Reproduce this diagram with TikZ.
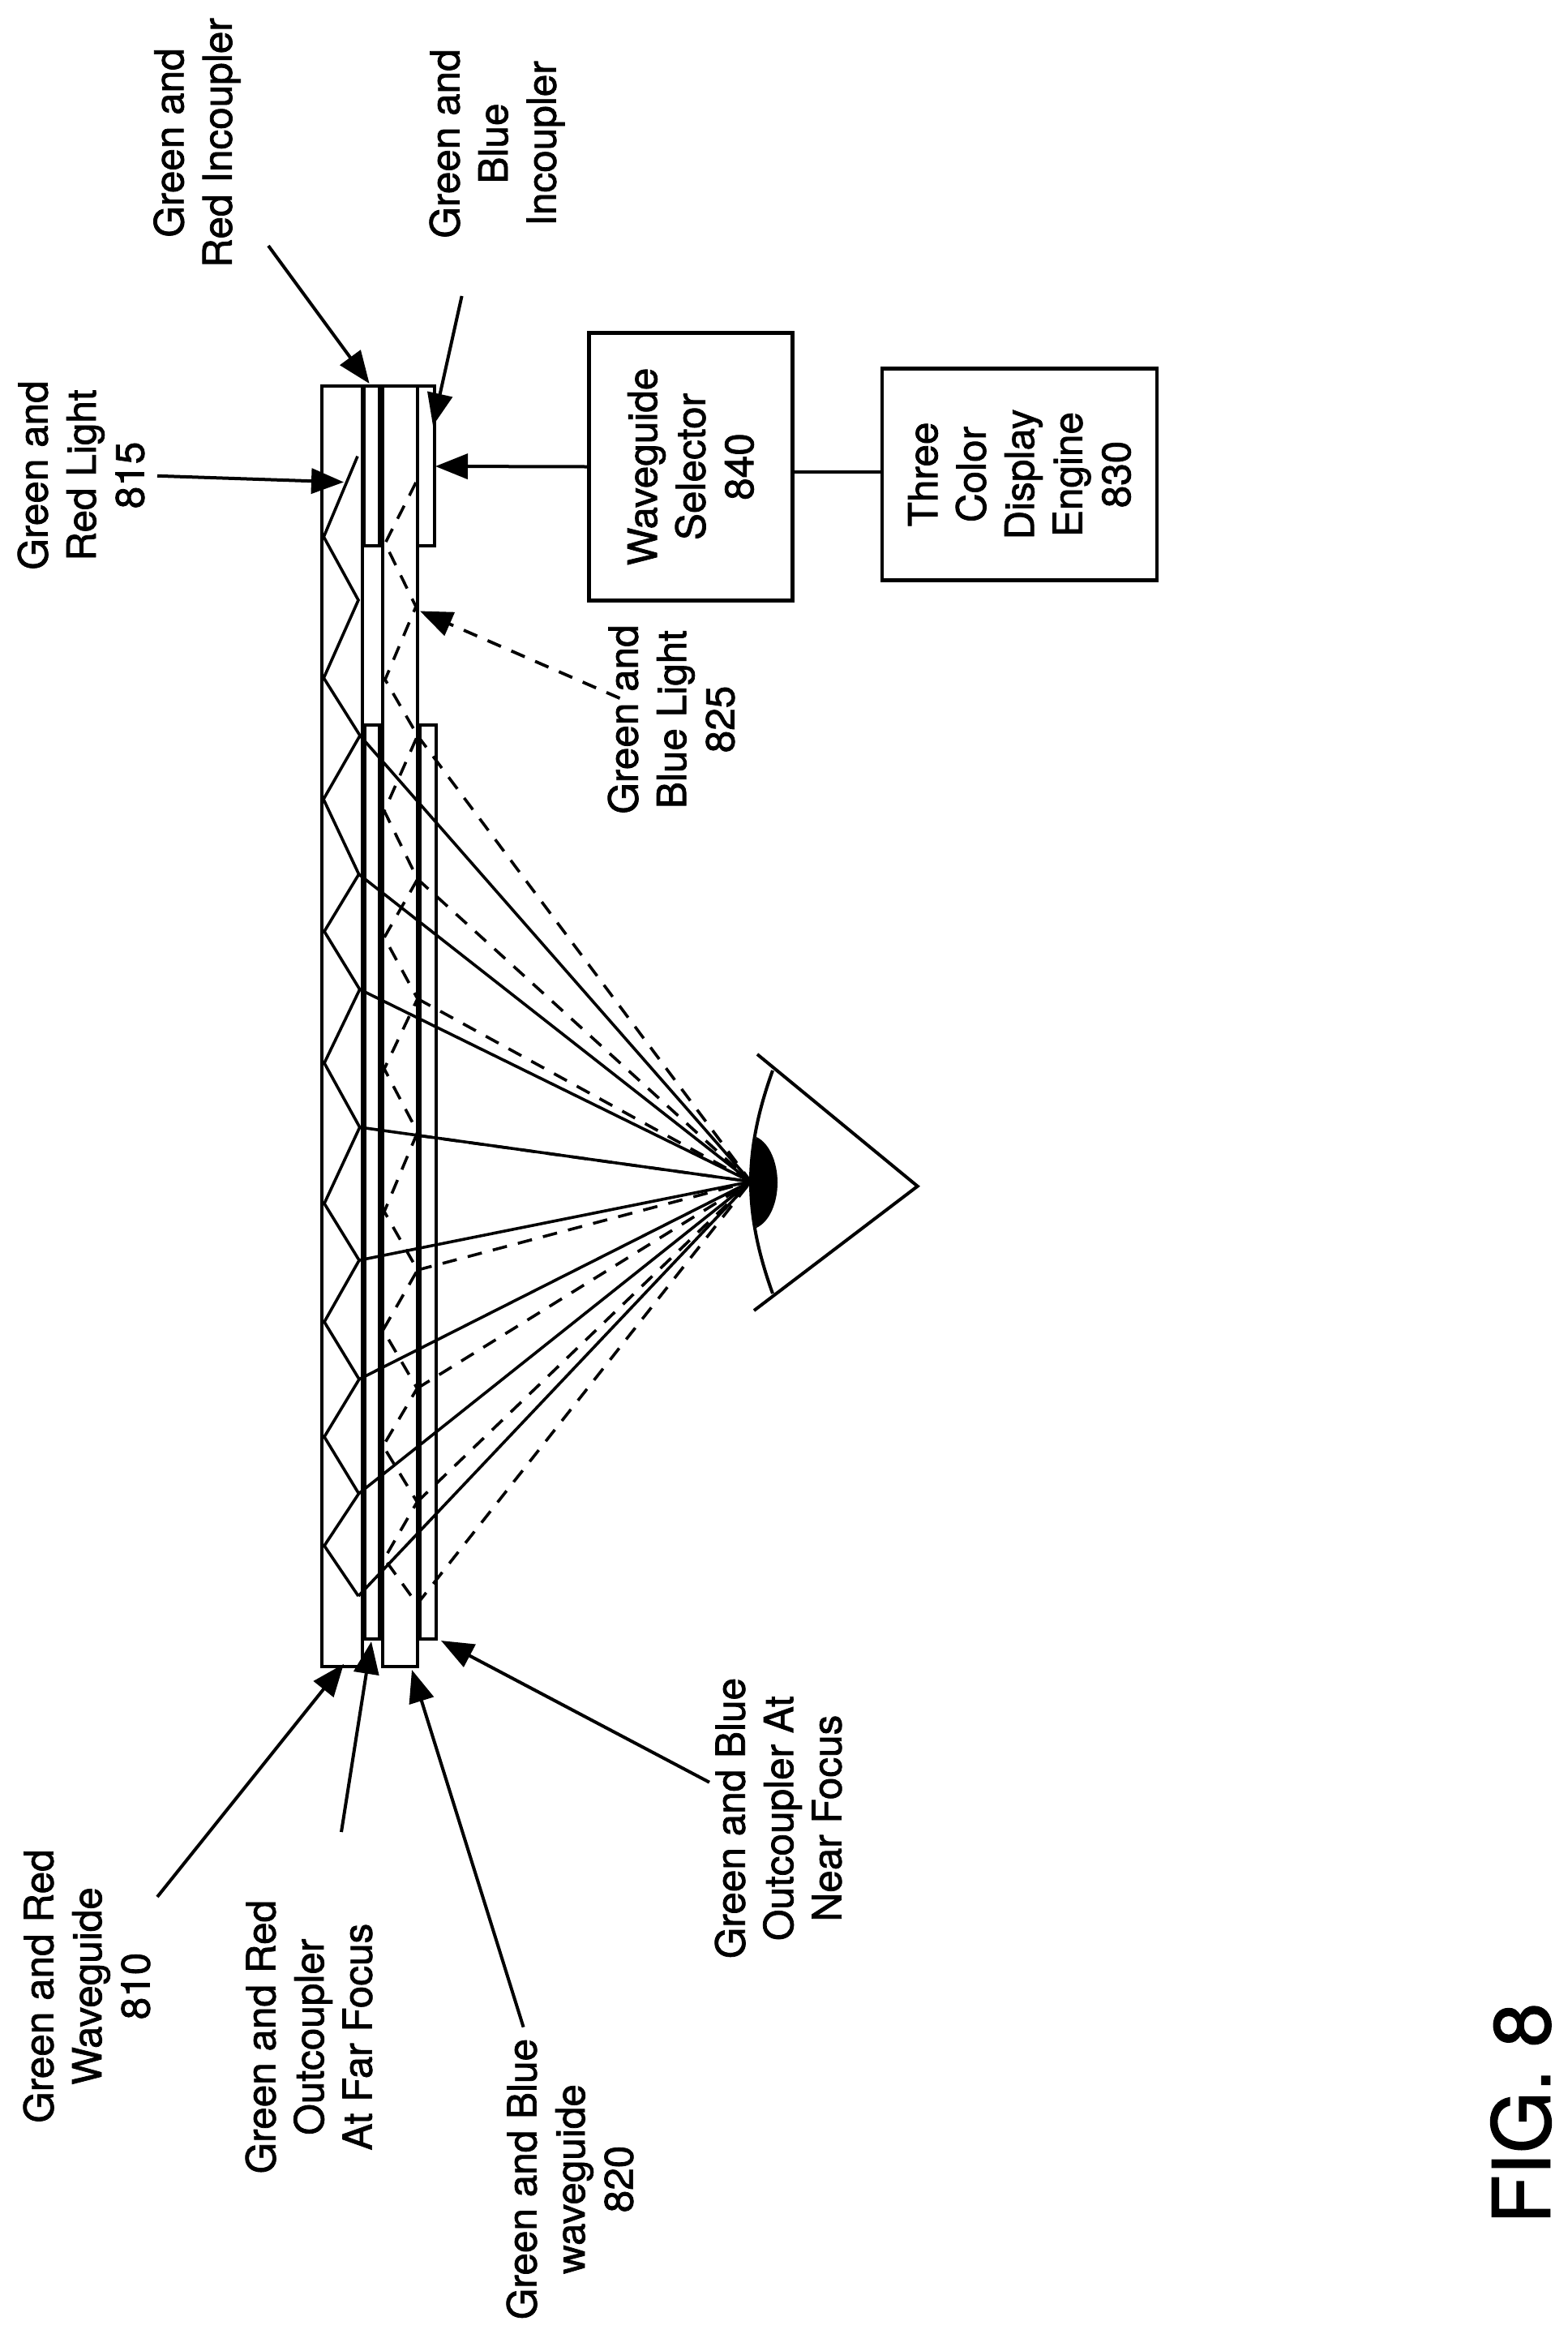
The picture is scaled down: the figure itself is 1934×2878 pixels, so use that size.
\documentclass[tikz,border=0pt]{standalone}
\usepackage{fontspec}
\setmainfont{TeX Gyre Heros}
\newfontfamily\lblfont[FakeBold=1.5]{TeX Gyre Heros}
\usetikzlibrary{arrows.meta}
\tikzset{
  lbl/.style={rotate=90,align=center,inner sep=0pt,font=\lblfont\fontsize{49.5}{59.5}\selectfont},
  wall/.style={draw=black,line width=4pt,line join=miter},
  box/.style={draw=black,line width=4.5pt,rotate=90,align=center,inner sep=0pt,font=\lblfont\fontsize{49.5}{59.5}\selectfont},
  ray/.style={black,line width=3.6pt,line join=miter},
  dray/.style={black,line width=3.6pt,dash pattern=on 18pt off 14pt},
  callout/.style={black,line width=4pt,-{Triangle[length=40pt,width=31pt]}},
  dcallout/.style={black,line width=3.8pt,dash pattern=on 18pt off 14pt,-{Triangle[length=40pt,width=31pt]}}
}
\begin{document}
\begin{tikzpicture}[x=1pt,y=-1pt]
\useasboundingbox (0,0) rectangle (1934,2878);
% waveguides and couplers
\draw[wall] (397,476) rectangle (446.5,2055);
\draw[wall] (472,476) rectangle (515,2055);
\draw[wall] (449,476) rectangle (468,672.5);
\draw[wall] (450,894) rectangle (468,2021);
\draw[wall] (515,476) rectangle (535.5,672.5);
\draw[wall] (518,894) rectangle (537.5,2021);
% eye
\coordinate (E) at (926,1457);
\fill[black] (933,1402) .. controls (950,1410) and (959,1435) .. (959,1458)
  .. controls (959,1482) and (950,1506) .. (933,1514)
  .. controls (926,1490) and (924,1425) .. (933,1402) -- cycle;
\coordinate (eyeA) at (934,1300);
\coordinate (eyeB) at (1131.7,1462.7);
\coordinate (eyeC) at (930,1616);
\coordinate (arcA) at (953,1320);
\coordinate (arcB) at (953,1595);
\draw[ray,line width=4pt] (eyeA) -- (eyeB) -- (eyeC);
\draw[ray,line width=4pt] (arcA) .. controls (917,1420) and (917,1495) .. (arcB);
% solid light path
\draw[ray] (441,562.6) -- (399.3,662) -- (442,740) -- (399.3,836)
  -- (444,907) -- (399,985.5) -- (442.6,1078) -- (400,1148.5)
  -- (443.7,1220) -- (400,1310.8) -- (443.7,1390) -- (400,1484)
  -- (443,1554) -- (400,1630) -- (443,1700.7) -- (400,1771.7)
  -- (442.5,1841.7) -- (400,1906) -- (442,1968);
\foreach \p in {(444,907),(442.6,1078),(443.7,1220),(443.7,1390),(443,1554),(443,1700.7),(442.5,1841.7),(442,1968)}
  \draw[ray] \p -- (E);
% dashed light path
\draw[dray] (513,595) -- (475,670) -- (513,748) -- (475,838)
  -- (515,907) -- (474,1000) -- (515,1084) -- (474,1156)
  -- (515,1231.5) -- (474,1318) -- (515,1396) -- (474,1494)
  -- (515,1566) -- (472.5,1640) -- (514.5,1712) -- (472.5,1783)
  -- (514.5,1852) -- (474,1922) -- (514.5,1978);
\foreach \p in {(515,907),(515,1084),(515,1231.5),(515,1400),(515,1566),(514.5,1712),(514.5,1852),(514.5,1978)}
  \draw[dray] \p -- (E);
% boxes
\node[box,minimum width=330pt,minimum height=251pt] (sel) at (852,575.5) {Waveguide\\Selector\\840};
\node[box,minimum width=260.8pt,minimum height=339pt] (eng) at (1257.5,585) {Three\\Color\\Display\\Engine\\830};
\coordinate (selT) at (537,575);
\coordinate (selR) at (977.6,582);
\draw[callout] (sel.north) -- (selT);
\draw[black,line width=4pt] (selR) -- (selR -| eng.north);
% labels
\node[lbl] (l815) at (100,586) {Green and\\Red Light\\815};
\node[lbl] (lri) at (243,176) {Green and\\Red Incoupler};
\node[lbl] (lbi) at (613,177) {Green and\\Blue\\Incoupler};
\node[lbl] (l825) at (828,887) {Green and\\Blue Light\\825};
\node[lbl] (l810) at (107,2449) {Green and Red\\Waveguide\\810};
\node[lbl] (lfar) at (381,2511.6) {Green and Red\\Outcoupler\\At Far Focus};
\node[lbl] (l820) at (703,2687) {Green and Blue\\waveguide\\820};
\node[lbl] (lnear) at (960,2242) {Green and Blue\\Outcoupler At\\Near Focus};
\node[rotate=90,inner sep=0pt,font=\lblfont\fontsize{98}{110}\selectfont] (fig) at (1876,2606) {FIG. 8};
% callouts
\coordinate (a1) at (331,303);   \coordinate (b1) at (455.6,473);
\coordinate (a2) at (569.6,365); \coordinate (b2) at (534,525);
\coordinate (a3) at (194,586.8); \coordinate (b3) at (424,594.5);
\coordinate (a4) at (764.5,861); \coordinate (b4) at (518,753.5);
\coordinate (a5) at (194,2339);  \coordinate (b5) at (424,2051.7);
\coordinate (a6) at (421,2259);  \coordinate (b6) at (458,2024);
\coordinate (a7) at (645.6,2499.6); \coordinate (b7) at (508,2059);
\coordinate (a8) at (875,2197.7);   \coordinate (b8) at (544,2023);
\draw[callout] (a1) -- (b1);
\draw[callout] (a2) -- (b2);
\draw[callout] (a3) -- (b3);
\draw[dcallout] (a4) -- (b4);
\draw[callout] (a5) -- (b5);
\draw[callout] (a6) -- (b6);
\draw[callout] (a7) -- (b7);
\draw[callout] (a8) -- (b8);
\end{tikzpicture}
\end{document}
